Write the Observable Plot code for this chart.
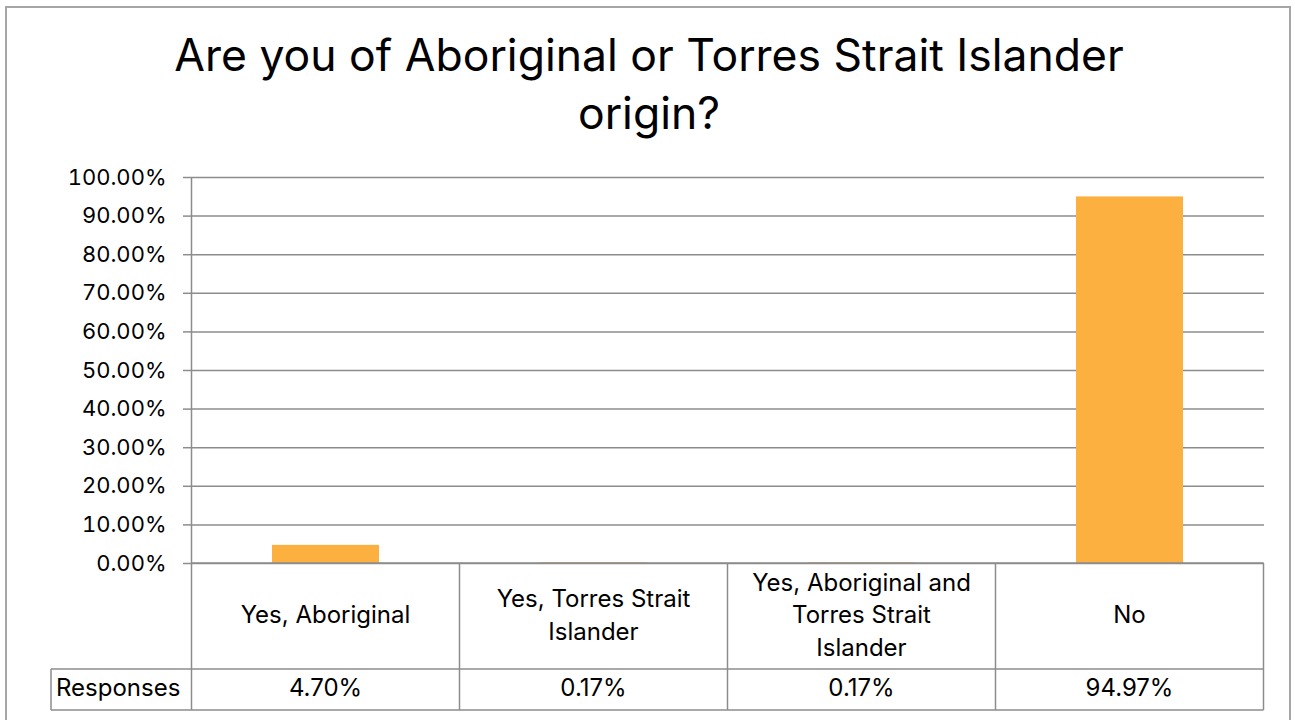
<!DOCTYPE html>
<html>
<head>
<meta charset="utf-8">
<script src="https://cdn.jsdelivr.net/npm/d3@7"></script>
<script src="https://cdn.jsdelivr.net/npm/@observablehq/plot@0.6"></script>
<style>
  html, body { margin: 0; padding: 0; background: #fff; }
  #wrap { position: relative; width: 1295px; height: 720px; overflow: hidden; font-family: Inter, "Open Sans", sans-serif; }
  #border { position: absolute; left: 5px; top: 6px; width: 1286px; height: 730px; border: 2px solid #a6a6a6; box-sizing: border-box; }
  #title { position: absolute; left: 0; top: 26px; width: 1298px; text-align: center; font-size: 44.5px; line-height: 58px; color: #000; }
  #chart { position: absolute; left: 0; top: 0; }
</style>
</head>
<body>
<div id="wrap">
  <div id="border"></div>
  <div id="title">Are you of Aboriginal or Torres Strait Islander<br>origin?</div>
  <div id="chart"></div>
</div>
<script>
const categories = ["Yes, Aboriginal", "Yes, Torres Strait Islander", "Yes, Aboriginal and Torres Strait Islander", "No"];
const categoryLines = [["Yes, Aboriginal"], ["Yes, Torres Strait", "Islander"], ["Yes, Aboriginal and", "Torres Strait", "Islander"], ["No"]];
const values = [0.047, 0.0017, 0.0017, 0.9497];
const valueLabels = ["4.70%", "0.17%", "0.17%", "94.97%"];
const seriesName = "Responses";
const yTicks = [0, 0.1, 0.2, 0.3, 0.4, 0.5, 0.6, 0.7, 0.8, 0.9, 1.0];

const data = categories.map((c, i) => ({category: c, value: values[i]}));
const grid = "#8c8c8c";
const axisFont = 22;
const tableFont = 24;
const ff = "Inter, 'Open Sans', sans-serif";

const plot = Plot.plot({
  width: 1295,
  height: 720,
  marginLeft: 191,
  marginRight: 31,
  marginTop: 177,
  marginBottom: 157,
  style: {fontFamily: ff, fontSize: axisFont + "px", background: "transparent", color: "#000"},
  x: {domain: categories, paddingInner: 0.6, paddingOuter: 0.3, axis: null},
  y: {domain: [0, 1], axis: null},
  marks: [
    Plot.ruleY(yTicks, {y: d => d, stroke: grid, strokeWidth: 1.5}),
    Plot.axisY({ticks: yTicks, tickFormat: d3.format(".2%"), tickSize: 8, tickPadding: 17, stroke: grid, strokeWidth: 1.5, fill: "#000", fontSize: axisFont, label: null}),
    Plot.barY(data, {x: "category", y: "value", fill: "#FBB040"})
  ]
});
document.getElementById("chart").appendChild(plot);

// Data table under the plot, positioned from the plot's own scales
const xs = plot.scale("x");
const ys = plot.scale("y");
const svg = d3.select(plot);
const step = xs.step;
const y0 = ys.apply(0);
const rowTop = 669, rowBottom = 710, labelLeft = 51;
const left = xs.apply(categories[0]) + xs.bandwidth / 2 - step / 2;
const right = xs.apply(categories[categories.length - 1]) + xs.bandwidth / 2 + step / 2;
const g = svg.append("g").attr("stroke", grid).attr("stroke-width", 1.5).attr("fill", "none");
g.append("line").attr("x1", left).attr("x2", left).attr("y1", ys.apply(1)).attr("y2", y0);
g.append("line").attr("x1", left).attr("x2", right).attr("y1", y0).attr("y2", y0);
g.append("line").attr("x1", labelLeft).attr("x2", right).attr("y1", rowTop).attr("y2", rowTop);
g.append("line").attr("x1", labelLeft).attr("x2", right).attr("y1", rowBottom).attr("y2", rowBottom);
g.append("line").attr("x1", labelLeft).attr("x2", labelLeft).attr("y1", rowTop).attr("y2", rowBottom);
for (let i = 0; i <= categories.length; i++) {
  const x = left + i * step;
  g.append("line").attr("x1", x).attr("x2", x).attr("y1", y0).attr("y2", rowBottom);
}
const t = svg.append("g").attr("fill", "#000").attr("font-family", ff).attr("font-size", tableFont);
const lh = 32.5;
categories.forEach((c, i) => {
  const cx = xs.apply(c) + xs.bandwidth / 2;
  const lines = categoryLines[i];
  const cy = (y0 + rowTop) / 2 - 1;
  lines.forEach((ln, j) => {
    t.append("text").attr("x", cx).attr("y", cy + (j - (lines.length - 1) / 2) * lh)
      .attr("text-anchor", "middle").attr("dy", "0.35em").text(ln);
  });
  t.append("text").attr("x", cx).attr("y", (rowTop + rowBottom) / 2 - 2)
    .attr("text-anchor", "middle").attr("dy", "0.35em").text(valueLabels[i]);
});
t.append("text").attr("x", labelLeft + 5).attr("y", (rowTop + rowBottom) / 2 - 2).attr("text-anchor", "start").attr("dy", "0.35em").text(seriesName);
</script>
</body>
</html>
